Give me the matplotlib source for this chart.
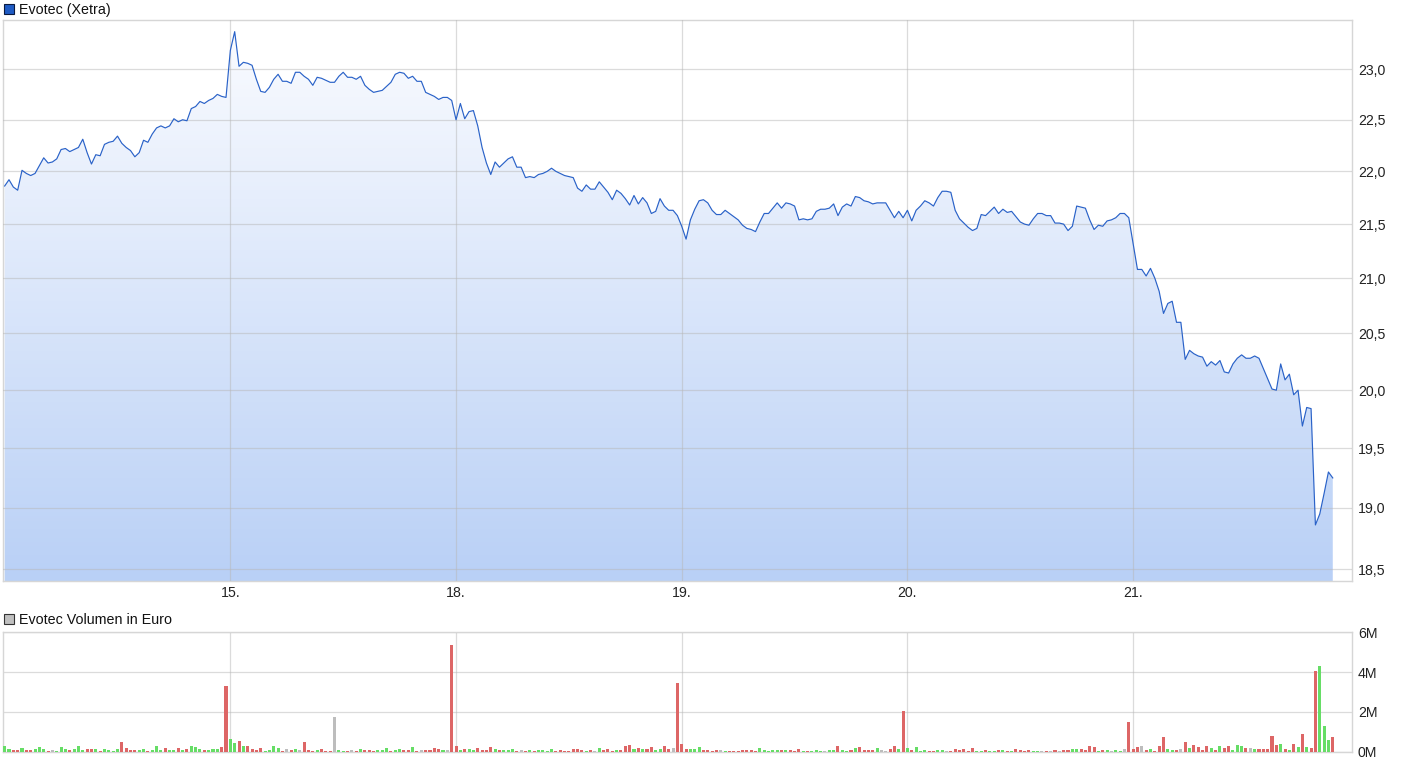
import numpy as np
import matplotlib
matplotlib.use("Agg")
import matplotlib.pyplot as plt
from matplotlib.patches import Polygon, Rectangle
from matplotlib.colors import LinearSegmentedColormap
from matplotlib.ticker import FixedLocator, FuncFormatter, NullLocator

plt.rcParams['font.family'] = ['Liberation Sans', 'DejaVu Sans']

# ---------------- data ----------------
# time axis: 10-minute trading slots, 52 per trading day
day_labels = ["15.", "18.", "19.", "20.", "21."]
day_starts = [52, 104, 156, 208, 260]
price_ticks = [18.5, 19.0, 19.5, 20.0, 20.5, 21.0, 21.5, 22.0, 22.5, 23.0]
volume_ticks = [0, 2, 4, 6]  # million EUR

# price (EUR) per slot
slots14 = [0, 1, 2, 3, 4, 5, 6, 7, 9, 10, 11, 12, 13, 14, 15] + list(range(17, 52))
price14 = [21.86, 21.92, 21.85, 21.82, 22.01, 21.98, 21.96, 21.98, 22.13, 22.08,
           22.09, 22.12, 22.21, 22.22, 22.19, 22.23, 22.31, 22.18, 22.07, 22.16,
           22.15, 22.26, 22.28, 22.29, 22.34, 22.27, 22.23, 22.20, 22.14, 22.18,
           22.30, 22.28, 22.36, 22.42, 22.44, 22.42, 22.44, 22.51, 22.48, 22.50,
           22.49, 22.61, 22.63, 22.68, 22.66, 22.69, 22.71, 22.75, 22.73, 22.72]
slots15 = list(range(52, 104))
price15 = [23.19, 23.38, 23.03, 23.07, 23.06, 23.04, 22.90, 22.78, 22.77, 22.82,
           22.90, 22.95, 22.88, 22.88, 22.86, 22.97, 22.97, 22.93, 22.90, 22.84,
           22.92, 22.91, 22.89, 22.87, 22.87, 22.93, 22.97, 22.92, 22.92, 22.90,
           22.93, 22.84, 22.80, 22.77, 22.78, 22.79, 22.83, 22.87, 22.95, 22.97,
           22.96, 22.91, 22.93, 22.88, 22.88, 22.77, 22.75, 22.73, 22.70, 22.72,
           22.72, 22.69]
slots18 = list(range(104, 156))
price18 = [22.50, 22.66, 22.51, 22.58, 22.59, 22.44, 22.23, 22.08, 21.97, 22.09,
           22.04, 22.08, 22.12, 22.14, 22.04, 22.04, 21.94, 21.95, 21.94, 21.97,
           21.98, 22.00, 22.03, 22.00, 21.98, 21.96, 21.95, 21.94, 21.84, 21.81,
           21.87, 21.83, 21.83, 21.90, 21.85, 21.80, 21.73, 21.82, 21.79, 21.74,
           21.68, 21.77, 21.69, 21.75, 21.70, 21.60, 21.62, 21.74, 21.67, 21.63,
           21.63, 21.58]
slots19 = list(range(156, 208))
price19 = [21.48, 21.36, 21.54, 21.64, 21.72, 21.73, 21.70, 21.63, 21.59, 21.59,
           21.63, 21.60, 21.57, 21.54, 21.49, 21.46, 21.45, 21.43, 21.52, 21.60,
           21.60, 21.65, 21.70, 21.65, 21.70, 21.69, 21.67, 21.54, 21.55, 21.54,
           21.55, 21.62, 21.64, 21.64, 21.65, 21.69, 21.58, 21.66, 21.69, 21.67,
           21.76, 21.75, 21.72, 21.71, 21.69, 21.70, 21.70, 21.70, 21.63, 21.56,
           21.62, 21.56]
slots20 = list(range(208, 260))
price20 = [21.63, 21.53, 21.63, 21.67, 21.72, 21.70, 21.67, 21.75, 21.81, 21.81,
           21.80, 21.63, 21.55, 21.51, 21.47, 21.44, 21.46, 21.59, 21.58, 21.62,
           21.66, 21.60, 21.64, 21.61, 21.62, 21.57, 21.52, 21.50, 21.49, 21.55,
           21.60, 21.60, 21.58, 21.58, 21.51, 21.51, 21.50, 21.44, 21.48, 21.67,
           21.66, 21.65, 21.54, 21.45, 21.49, 21.48, 21.53, 21.54, 21.56, 21.60,
           21.60, 21.56]
slots21 = list(range(261, 307))
price21 = [21.08, 21.08, 21.02, 21.09, 21.00, 20.88, 20.68, 20.77, 20.79,
           20.60, 20.60, 20.27, 20.35, 20.32, 20.30, 20.29, 20.21, 20.25, 20.22,
           20.26, 20.16, 20.15, 20.23, 20.28, 20.31, 20.28, 20.28, 20.30, 20.28,
           20.19, 20.10, 20.01, 20.00, 20.23, 20.09, 20.14, 19.96, 20.00, 19.69,
           19.85, 19.84, 18.86, 18.95, 19.12, 19.30, 19.25]

# volume (million EUR) per slot, direction: g = up, r = down, n = unchanged
vol14 = [.29, .13, .08, .08, .18, .08, .08, .13, .23, .13, .04, .08, .04, .23, .13, .08, .13, .29, .08, .13,
         .13, .13, .04, .13, .08, .04, .13, .48, .18, .08, .08, .08, .13, .04, .08, .29, .08, .18, .08, .08,
         .18, .08, .13, .29, .23, .13, .08, .08, .13, .13, .23, 3.30]
dir14 = "ggrrgrrggg" "rngggrgggr" "rgrggggrrr" "rggrgggrgg" "rgrgggrggg" "rr"
vol15 = [.63, .43, .53, .28, .28, .13, .08, .18, .04, .08, .28, .18, .04, .13, .08, .13, .08, .48, .08, .04,
         .08, .13, .04, .04, 1.74, .08, .04, .04, .08, .04, .13, .08, .08, .04, .08, .08, .18, .04, .08, .13,
         .08, .08, .23, .04, .08, .08, .08, .18, .13, .08, .08, 5.36]
dir15 = "ggrgrrrrgg" "ggrnrgnrrr" "grrrnggrnr" "grrrgggrgg" "rrgrnrrrrg" "nr"
vol18 = [.28, .08, .13, .13, .08, .18, .08, .08, .23, .13, .08, .08, .08, .13, .04, .08, .04, .08, .04, .08,
         .08, .04, .13, .04, .08, .04, .04, .13, .13, .08, .04, .08, .04, .18, .08, .13, .04, .08, .08, .28,
         .33, .13, .18, .13, .13, .23, .08, .13, .28, .13, .18, 3.45]
dir18 = "rgrggrrrrg" "rgggrnrgrg" "gggrrrrrrr" "grngrrrgrr" "rgrgrrggrr" "nr"
vol19 = [.38, .13, .13, .13, .23, .08, .08, .04, .08, .08, .04, .04, .04, .04, .08, .08, .08, .04, .18, .08,
         .04, .08, .08, .08, .08, .08, .04, .13, .04, .04, .04, .08, .04, .04, .08, .08, .28, .08, .04, .08,
         .18, .23, .08, .08, .08, .18, .08, .04, .13, .28, .13, 2.04]
dir19 = "rrgggrrrrn" "grrrrrrrgg" "gggrgrrrgr" "gggnggrggr" "grrrrgnnrr" "gr"
vol20 = [.18, .08, .23, .04, .08, .04, .04, .08, .08, .04, .04, .13, .08, .13, .04, .18, .04, .04, .08, .04,
         .04, .08, .08, .04, .04, .13, .08, .04, .08, .04, .04, .04, .04, .04, .08, .04, .08, .08, .13, .13,
         .13, .08, .28, .23, .04, .08, .08, .04, .08, .04, .13, 1.48]
dir20 = "grgggrrggn" "rrrrrrggrg" "grgrgrrrrg" "gnrnrnrrgg" "rrrrgrgngg" "nr"
vol21 = [.13, .23, .28, .08, .13, .04, .28, .73, .13, .08, .08, .13, .48, .18, .33, .23, .08, .28, .18, .08,
         .28, .18, .28, .08, .33, .28, .18, .18, .13, .13, .13, .13, .78, .33, .38, .13, .08, .38, .23, .88,
         .23, .18, 4.05, 4.30, 1.28, .58, .73]
dir21 = "rrnrgrrrgg" "rnrgrrrrgr" "grrgggrngr" "rrrrgrgrgr" "grrgggr"

# ---------------- assemble ----------------
t_price = np.array(slots14 + slots15 + slots18 + slots19 + slots20 + slots21, dtype=float)
price = np.array(price14 + price15 + price18 + price19 + price20 + price21)
volume = np.array(vol14 + vol15 + vol18 + vol19 + vol20 + vol21)
directions = dir14 + dir15 + dir18 + dir19 + dir20 + dir21
t_vol = np.arange(len(volume))

dir_colors = {"g": "#66dd66", "r": "#dd6666", "n": "#bdbdbd"}
bar_colors = [dir_colors[c] for c in directions]

# ---------------- figure ----------------
W, H = 1410, 766
fig = plt.figure(figsize=(W / 100, H / 100), dpi=100)
fig.patch.set_facecolor("white")


def px_rect(x0, y0, x1, y1):
    return [x0 / W, 1 - y1 / H, (x1 - x0) / W, (y1 - y0) / H]


ax = fig.add_axes(px_rect(2.7, 20.3, 1352.3, 581))
axv = fig.add_axes(px_rect(2.7, 632.3, 1352.3, 751.5))

xlim = (-0.45, 310.5)
ylim = (18.405, 23.496)

grid_kw = dict(color="#b8b8b8", alpha=0.5, linewidth=0.9)
spine_color = "#d6d6d6"

# --- price panel ---
ax.set_yscale("log")
ax.set_xlim(*xlim)
ax.set_ylim(*ylim)
ax.set_autoscale_on(False)

grad = np.linspace(0, 1, 256).reshape(-1, 1)
cmap = LinearSegmentedColormap.from_list("fillgrad", ["#b9d0f6", "#fbfcff"])
im = ax.imshow(grad, extent=[0, 1, 0, 1], transform=ax.transAxes, origin="lower",
               cmap=cmap, aspect="auto", zorder=1, interpolation="bilinear")
verts = np.column_stack([np.r_[t_price[0], t_price, t_price[-1]],
                         np.r_[ylim[0], price, ylim[0]]])
poly = Polygon(verts, closed=True, facecolor="none", edgecolor="none",
               transform=ax.transData)
ax.add_patch(poly)
im.set_clip_path(poly)

ax.plot(t_price, price, color="#2a62c8", linewidth=0.85, zorder=3)
ax.set_xlim(*xlim)
ax.set_ylim(*ylim)

ax.yaxis.set_major_locator(FixedLocator(price_ticks))
ax.yaxis.set_minor_locator(NullLocator())
ax.yaxis.set_major_formatter(FuncFormatter(lambda v, p: f"{v:.1f}".replace(".", ",")))
ax.yaxis.tick_right()
ax.set_xticks(day_starts)
ax.set_xticklabels(day_labels)
ax.xaxis.set_minor_locator(NullLocator())
ax.tick_params(axis="both", length=0, labelsize=10.2, colors="#222222")
ax.tick_params(axis="y", pad=4.0)
ax.tick_params(axis="x", pad=3.5)
ax.grid(True, **grid_kw)
ax.set_axisbelow(False)
for s in ax.spines.values():
    s.set_color(spine_color)
    s.set_linewidth(1.0)

# --- volume panel ---
axv.bar(t_vol, volume, width=0.7, color=bar_colors, linewidth=0, zorder=3)
axv.set_xlim(*xlim)
axv.set_ylim(0, 6)
axv.set_yticks(volume_ticks)
axv.yaxis.set_major_formatter(FuncFormatter(lambda v, p: f"{v:.0f}M"))
axv.yaxis.tick_right()
axv.set_xticks(day_starts)
axv.tick_params(axis="x", labelbottom=False, length=0)
axv.tick_params(axis="y", length=0, labelsize=10.2, colors="#222222", pad=4.0)
axv.grid(True, **grid_kw)
axv.set_axisbelow(True)
for s in axv.spines.values():
    s.set_color(spine_color)
    s.set_linewidth(1.0)

# --- titles with legend squares ---
fig.add_artist(Rectangle((3.5 / W, 1 - 14 / H), 10 / W, 10.5 / H, transform=fig.transFigure,
                         facecolor="#1f5bc4", edgecolor="#0a1a40", linewidth=0.8))
fig.text(19.3 / W, 1 - 14.2 / H, "Evotec (Xetra)", fontsize=10.3, color="#111111",
         ha="left", va="baseline")
fig.add_artist(Rectangle((3.5 / W, 1 - 624 / H), 10 / W, 10.5 / H, transform=fig.transFigure,
                         facecolor="#c0c0c0", edgecolor="#333333", linewidth=0.8))
fig.text(19.3 / W, 1 - 624.2 / H, "Evotec Volumen in Euro", fontsize=10.3, color="#111111",
         ha="left", va="baseline")

fig.savefig("out.png", dpi=100, facecolor="white")
